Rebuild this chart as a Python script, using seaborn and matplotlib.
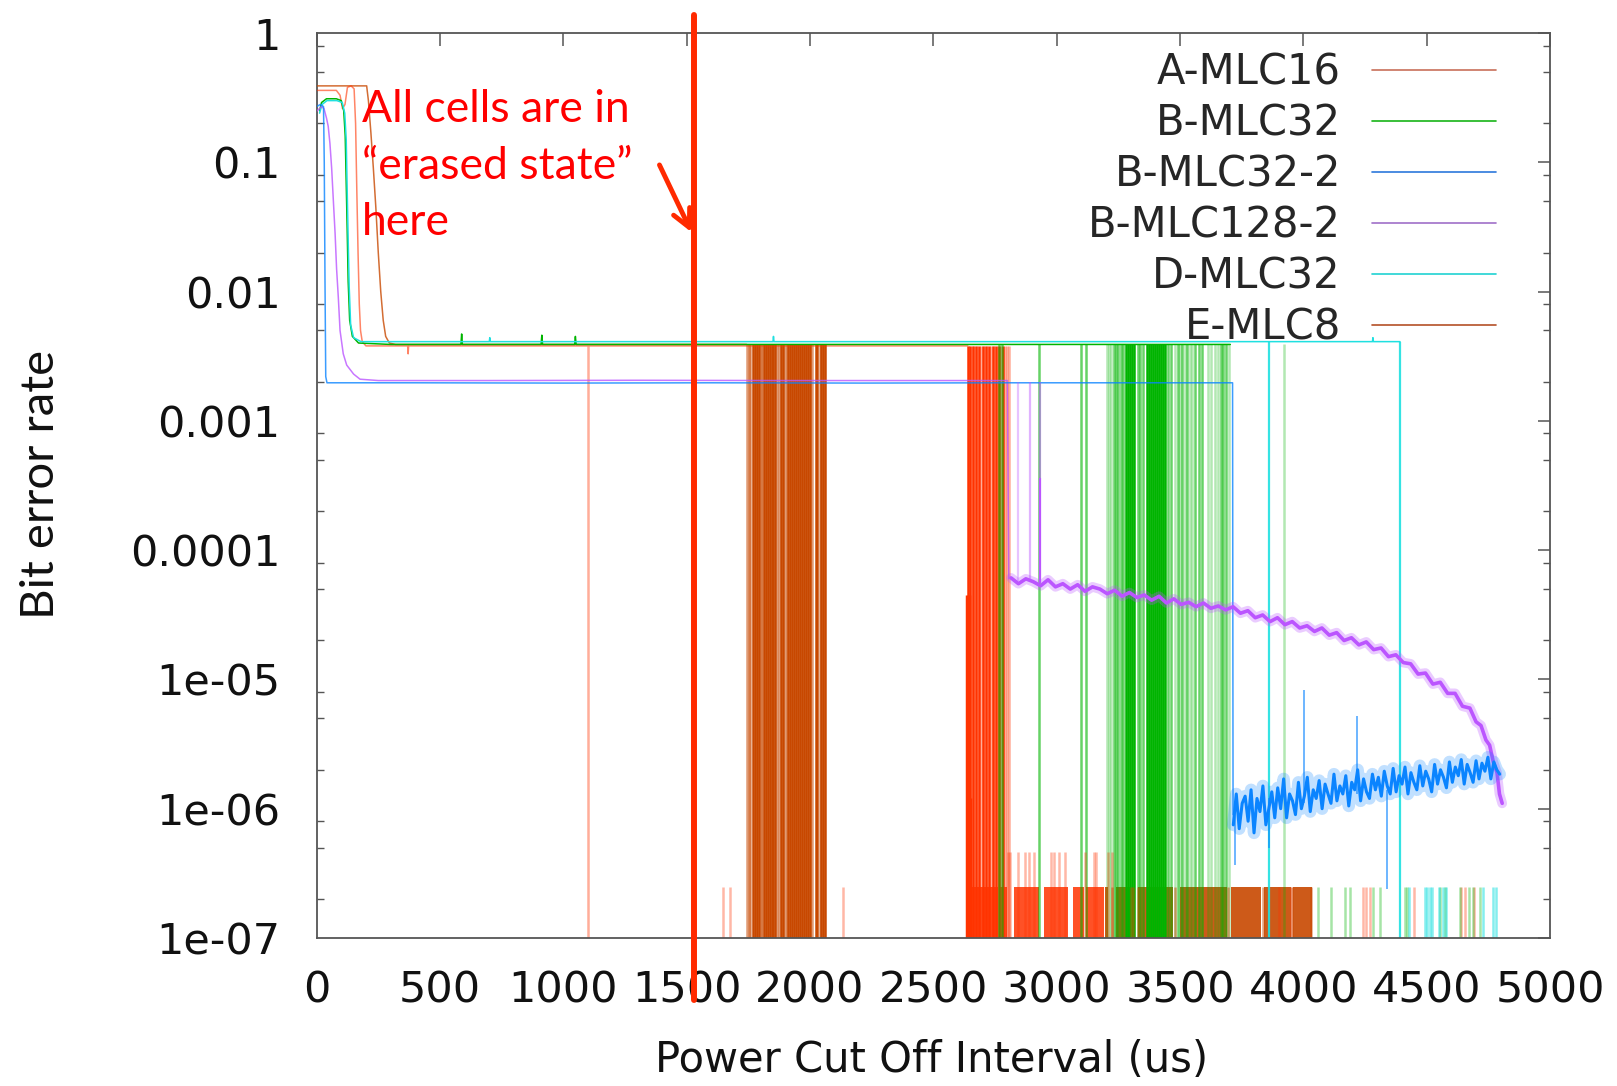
import numpy as np
import matplotlib
matplotlib.use("Agg")
import matplotlib.pyplot as plt
import seaborn as sns
from matplotlib.lines import Line2D
from matplotlib.ticker import FixedLocator, FixedFormatter, LogLocator, NullFormatter

sns.set_style("white")
plt.rcParams['font.family'] = ['DejaVu Sans']

# ------------------------------------------------------------------ data
series_names = ["A-MLC16", "B-MLC32", "B-MLC32-2", "B-MLC128-2", "D-MLC32", "E-MLC8"]
x_ticks = [0, 500, 1000, 1500, 2000, 2500, 3000, 3500, 4000, 4500, 5000]
x_tick_labels = ["0", "500", "1000", "1500", "2000", "2500", "3000", "3500", "4000", "4500", "5000"]
y_ticks = [1, 0.1, 0.01, 0.001, 0.0001, 1e-5, 1e-6, 1e-7]
y_tick_labels = ["1", "0.1", "0.01", "0.001", "0.0001", "1e-05", "1e-06", "1e-07"]

FLOOR = 1e-8          # zero BER (drawn below the axis)
STUB_LOW = 2.5e-7     # single-bit error level
STUB_HIGH = 4.6e-7

# A-MLC16
a16_x = [0, 80, 95, 105, 115, 125, 140, 152, 158, 163, 168, 173, 178, 185, 200, 369, 371, 373,
         700, 1095, 1500, 2000, 2400, 2640]
a16_y = [0.36, 0.36, 0.33, 0.26, 0.28, 0.38, 0.39, 0.37, 0.2, 0.06, 0.02, 0.008, 0.005, 0.0041, 0.0038,
         0.0038, 0.0033, 0.0038, 0.0038, 0.0038, 0.0038, 0.0038, 0.0038, 0.0038]
a16_drops = [2641, 2650, 2660, 2672, 2684, 2700, 2712, 2726, 2740, 2754, 2768, 2782]
a16_drops_light = [1101, 2645, 2656, 2666, 2678, 2692, 2706, 2719, 2733, 2747, 2761, 2775, 2790, 2800, 2808]
a16_low_x = [2637, 2643, 2648]
a16_low_top = [4.5e-5, 4.5e-5, 1.2e-6]
a16_stub_left = [2640, 2770, 2825, 2950, 3065, 3120]
a16_stub_right = [2762, 2797, 2930, 3045, 3110, 3190]
a16_stubs_tall = [2803, 2812, 2845, 2870, 2888, 2908, 2975, 2990, 3010, 3035, 3115, 3150, 3160, 3210, 3225]
a16_stubs_light = [1649, 1676, 2135, 3300, 3330, 3900, 3950, 4240, 4255, 4270, 4450, 4640, 4655, 4690]

# E-MLC8
e8_x = [0, 100, 203, 205, 210, 220, 230, 240, 250, 260, 270, 280, 295, 320, 800, 1200, 1743]
e8_y = [0.39, 0.39, 0.39, 0.36, 0.30, 0.17, 0.09, 0.045, 0.02, 0.01, 0.006, 0.0045, 0.0040, 0.0039,
        0.0039, 0.0039, 0.0039]
e8_drops = [1768, 1776, 1784, 1792, 1812, 1820, 1828, 1836, 1844, 1852, 1860, 1884, 1892, 1912, 1920,
            1928, 1936, 1944, 1952, 1960, 1968, 1976, 1984, 1992, 2000, 2024, 2030, 2046, 2054, 2060]
e8_drops_light = [1746, 1752, 1758, 1800, 1806, 1868, 1874, 1900, 1906, 2010, 2040]
e8_stub_left = [3195, 3240, 3330, 3500, 3705, 3840, 3960]
e8_stub_right = [3210, 3300, 3470, 3690, 3830, 3950, 4035]
e8_stubs_light = [3225, 3310, 3480, 3695, 3835, 3955, 4030]

# B-MLC32
b32_x = [12, 20, 40, 80, 100, 110, 116, 120, 124, 128, 134, 145, 170, 300, 585, 588, 591, 910, 913,
         916, 1046, 1049, 1052, 1600, 2200, 2770, 3000, 3400, 3704]
b32_y = [0.25, 0.29, 0.31, 0.31, 0.30, 0.25, 0.16, 0.07, 0.03, 0.012, 0.006, 0.0045, 0.0040, 0.0039,
         0.0039, 0.0047, 0.0039, 0.0039, 0.0046, 0.0039, 0.0039, 0.0045, 0.0039, 0.0039, 0.0039,
         0.0039, 0.0039, 0.0039, 0.0039]
b32_drops = [3282, 3290, 3298, 3306, 3314, 3368, 3376, 3384, 3392, 3400, 3408, 3416, 3424, 3432, 3440]
b32_drops_mid = [2766, 2778, 2928, 3100, 3120, 3232, 3240, 3250, 3260, 3270, 3328, 3338, 3350, 3452,
                 3462, 3490, 3510, 3530, 3560, 3575, 3590, 3665, 3675, 3685]
b32_drops_light = [3206, 3214, 3222, 3480, 3500, 3520, 3540, 3550, 3612, 3625, 3640, 3652, 3698, 3920]
b32_stubs_light = [4060, 4110, 4170, 4190, 4283, 4310, 4412, 4420, 4553, 4575, 4635, 4670, 4688, 4716]

# D-MLC32
d32_x = [12, 22, 42, 82, 104, 114, 120, 124, 128, 132, 138, 150, 180, 420, 700, 702, 704, 1300, 1850,
         1852, 1854, 2600, 3000, 3859, 4100, 4280, 4282, 4284, 4392]
d32_y = [0.24, 0.28, 0.30, 0.30, 0.29, 0.24, 0.15, 0.06, 0.025, 0.011, 0.0055, 0.0044, 0.0041, 0.0041,
         0.0041, 0.0044, 0.0041, 0.0041, 0.0041, 0.0045, 0.0041, 0.0041, 0.0041, 0.0041, 0.0041,
         0.0041, 0.0044, 0.0041, 0.0041]
d32_drops = [3859, 4392]
d32_stubs = [4430, 4493, 4503, 4513, 4523, 4550, 4565, 4580, 4730, 4770, 4780]

# B-MLC32-2
b322_x = [0, 15, 28, 31, 34, 37, 42, 400, 1000, 1600, 2200, 2800, 3200, 3713, 3715]
b322_y = [0.27, 0.28, 0.27, 0.1, 0.012, 0.0022, 0.00197, 0.00197, 0.00196, 0.00197, 0.00196,
          0.00197, 0.00197, 0.00197, 0.9e-6]
b322_tail_x = [3716, 3728, 3740, 3752, 3764, 3776, 3788, 3800, 3812, 3824, 3836, 3848, 3860, 3872,
               3884, 3896, 3908, 3920, 3932, 3944, 3956, 3968, 3980, 3992, 4004, 4016, 4028, 4040,
               4052, 4064, 4076, 4088, 4100, 4112, 4124, 4136, 4148, 4160, 4172, 4184, 4196, 4208,
               4220, 4232, 4244, 4256, 4268, 4280, 4292, 4304, 4316, 4328, 4340, 4352, 4364, 4376,
               4388, 4400, 4412, 4424, 4436, 4448, 4460, 4472, 4484, 4496, 4508, 4520, 4532, 4544,
               4556, 4568, 4580, 4592, 4604, 4616, 4628, 4640, 4652, 4664, 4676, 4688, 4700, 4712,
               4724, 4736, 4748, 4760, 4772, 4784, 4796]
b322_tail_ber_e6 = [0.75, 1.3, 0.7, 1.1, 1.25, 0.8, 1.4, 0.65, 1.2, 0.95,
                    1.5, 0.75, 1.0, 1.35, 0.85, 1.45, 1.0, 1.7, 0.85, 1.3,
                    1.15, 0.9, 1.6, 1.0, 1.25, 1.75, 0.95, 1.4, 1.2, 1.65,
                    1.0, 1.55, 1.3, 1.1, 1.85, 1.15, 1.5, 1.3, 1.8, 1.05,
                    1.6, 1.4, 2.0, 1.15, 1.7, 1.35, 1.2, 1.85, 1.4, 1.75,
                    1.25, 1.95, 1.5, 1.3, 2.05, 1.35, 1.8, 1.55, 2.1, 1.3,
                    1.9, 1.6, 1.4, 2.15, 1.5, 1.95, 1.7, 1.35, 2.2, 1.55,
                    2.0, 1.75, 1.45, 2.3, 1.6, 2.1, 1.8, 2.4, 1.55, 2.2,
                    1.9, 1.6, 2.35, 1.7, 2.25, 1.95, 2.5, 1.7, 2.3, 2.0,
                    1.85]
b322_spike_x = [3722, 3862, 4004, 4216, 4340]
b322_spike_lo = [0.37e-6, 0.5e-6, 1.1e-6, 1.3e-6, 0.24e-6]
b322_spike_hi = [1.0e-6, 1.2e-6, 8.3e-6, 5.2e-6, 1.4e-6]

# B-MLC128-2
p128_x = [2, 20, 30, 40, 47, 54, 61, 68, 75, 81, 88, 95, 108, 122, 150, 176, 250, 700, 1300, 1900,
          2400, 2800, 2806]
p128_y = [0.25, 0.27, 0.26, 0.22, 0.19, 0.14, 0.09, 0.05, 0.028, 0.015, 0.009, 0.005, 0.0033, 0.0027,
          0.0023, 0.0021, 0.00205, 0.00205, 0.00206, 0.00205, 0.00205, 0.00205, 6.0e-5]
p128_tail_x = [2815, 2845, 2875, 2905, 2935, 2965, 2995, 3025, 3055, 3085, 3115, 3145, 3175, 3205,
               3235, 3265, 3295, 3325, 3355, 3385, 3415, 3445, 3475, 3505, 3535, 3565, 3595, 3625,
               3655, 3685, 3715, 3745, 3775, 3805, 3835, 3865, 3895, 3925, 3955, 3985, 4015, 4045,
               4075, 4105, 4135, 4165, 4195, 4225, 4255, 4285, 4315, 4345, 4375, 4405, 4435, 4465,
               4495, 4525, 4555, 4585, 4615, 4645, 4675, 4700, 4720, 4740, 4755, 4770, 4785, 4795, 4806]
p128_tail_ber_e5 = [6.1, 5.5, 6.0, 5.7, 5.3, 5.9, 5.2, 5.5, 5.0, 5.4, 4.8, 5.2, 5.0, 4.6, 4.9, 4.4,
                    4.7, 4.3, 4.5, 4.1, 4.4, 3.9, 4.2, 3.8, 3.95, 3.65, 3.9, 3.55, 3.7, 3.45, 3.65, 3.25,
                    3.4, 3.0, 3.15, 2.8, 3.0, 2.65, 2.8, 2.5, 2.6, 2.35, 2.5, 2.2, 2.3, 2.0,
                    2.1, 1.85, 1.95, 1.7, 1.75, 1.5, 1.55, 1.35, 1.32, 1.1, 1.12, 0.92, 0.95, 0.78,
                    0.78, 0.62, 0.6, 0.47, 0.44, 0.34, 0.31, 0.23, 0.19, 0.13, 0.11]
p128_spike_x = [2845, 2892, 2933, 2933]
p128_spike_lo = [5.8e-5, 5.7e-5, 5.6e-5, 3.6e-4]
p128_spike_hi = [2.0e-3, 2.0e-3, 3.6e-4, 2.0e-3]
p128_spike_alpha = [0.35, 0.45, 1.0, 0.5]

# colours
c_a16, c_b32, c_b322, c_p128, c_d32, c_e8 = "#ff3300", "#00b400", "#0a84ff", "#bb55ff", "#1fe0e0", "#c84800"
legend_colors = ["#c8705a", "#18b418", "#2c78dc", "#a070c8", "#20d2d2", "#b45028"]

# ------------------------------------------------------------------ figure
fig = plt.figure(figsize=(16.17, 10.86), dpi=100)
ax = fig.add_axes([0.1958, 0.1363, 0.7628, 0.8333])
ax.set_yscale("log")

LW = 1.1
DLW = 1.8

def vl(x, lo, hi, color, alpha, lw=DLW, z=2):
    ax.vlines(x, lo, hi, colors=color, alpha=alpha, linewidth=lw, zorder=z)

# bands / drops
vl(e8_drops, FLOOR, 0.0039, c_e8, 1.0)
vl(e8_drops_light, FLOOR, 0.0039, c_e8, 0.55)
vl(a16_drops, FLOOR, 0.0038, c_a16, 1.0)
vl(a16_drops_light, FLOOR, 0.0038, c_a16, 0.4)
vl(a16_low_x, FLOOR, a16_low_top, c_a16, 1.0, lw=2.5)
vl(b32_drops, FLOOR, 0.0039, c_b32, 1.0)
vl(b32_drops_mid, FLOOR, 0.0039, c_b32, 0.6)
vl(b32_drops_light, FLOOR, 0.0039, c_b32, 0.3)
vl(d32_drops, FLOOR, 0.0041, c_d32, 0.9, lw=1.6)

# bottom single-error stubs
ax.bar(a16_stub_left, STUB_LOW - FLOOR, width=np.subtract(a16_stub_right, a16_stub_left), bottom=FLOOR,
       align="edge", color=c_a16, alpha=0.85, linewidth=0, zorder=1)
ax.bar(e8_stub_left, STUB_LOW - FLOOR, width=np.subtract(e8_stub_right, e8_stub_left), bottom=FLOOR,
       align="edge", color=c_e8, alpha=0.9, linewidth=0, zorder=1.5)
vl(a16_stubs_tall, FLOOR, STUB_HIGH, c_a16, 0.35)
vl(a16_stubs_light, FLOOR, STUB_LOW, c_a16, 0.35)
vl(e8_stubs_light, FLOOR, STUB_LOW, c_e8, 0.5)
vl(b32_stubs_light, FLOOR, STUB_LOW, c_b32, 0.35)
vl(d32_stubs, FLOOR, STUB_LOW, c_d32, 0.55)

# main curves
sns.lineplot(x=e8_x, y=e8_y, ax=ax, color=c_e8, lw=LW, alpha=0.8, estimator=None, sort=False, zorder=3)
sns.lineplot(x=a16_x, y=a16_y, ax=ax, color=c_a16, lw=LW, alpha=0.6, estimator=None, sort=False, zorder=3)
sns.lineplot(x=b32_x, y=b32_y, ax=ax, color=c_b32, lw=LW, estimator=None, sort=False, zorder=3)
sns.lineplot(x=d32_x, y=d32_y, ax=ax, color=c_d32, lw=LW, estimator=None, sort=False, zorder=3.2)
sns.lineplot(x=p128_x, y=p128_y, ax=ax, color=c_p128, lw=LW, alpha=0.8, estimator=None, sort=False, zorder=3.4)
sns.lineplot(x=b322_x, y=b322_y, ax=ax, color=c_b322, lw=LW, alpha=0.8, estimator=None, sort=False, zorder=3.5)

p_tail = np.array(p128_tail_ber_e5) * 1e-5
sns.lineplot(x=p128_tail_x, y=p_tail, ax=ax, color=c_p128, lw=7.0, alpha=0.3, estimator=None, sort=False, zorder=4)
sns.lineplot(x=p128_tail_x, y=p_tail, ax=ax, color=c_p128, lw=2.6, estimator=None, sort=False, zorder=4.1)
for xs, lo, hi, a in zip(p128_spike_x, p128_spike_lo, p128_spike_hi, p128_spike_alpha):
    vl([xs], lo, hi, c_p128, a, lw=1.6, z=4)

b_tail = np.array(b322_tail_ber_e6) * 1e-6
sns.lineplot(x=b322_tail_x, y=b_tail, ax=ax, color=c_b322, lw=9.0, alpha=0.25, estimator=None, sort=False, zorder=4.5)
sns.lineplot(x=b322_tail_x, y=b_tail, ax=ax, color=c_b322, lw=2.2, estimator=None, sort=False, zorder=4.6)
vl(b322_spike_x, b322_spike_lo, b322_spike_hi, c_b322, 0.6, lw=1.4, z=4.5)

# ------------------------------------------------------------------ axes styling
ax.set_xlim(0, 5000)
ax.set_ylim(1e-7, 1)
ax.xaxis.set_major_locator(FixedLocator(x_ticks))
ax.xaxis.set_major_formatter(FixedFormatter(x_tick_labels))
ax.yaxis.set_major_locator(FixedLocator(y_ticks))
ax.yaxis.set_major_formatter(FixedFormatter(y_tick_labels))
ax.yaxis.set_minor_locator(LogLocator(base=10, subs=(2.0, 5.0, 8.0)))
ax.yaxis.set_minor_formatter(NullFormatter())
ax.tick_params(axis="both", which="major", direction="in", length=9, width=1.1, color="#555555",
               top=True, right=True)
ax.tick_params(axis="y", which="minor", direction="in", length=5, width=1.0, color="#555555",
               left=True, right=True)
ax.tick_params(axis="x", which="major", labelsize=31, pad=23, labelcolor="#111111")
ax.tick_params(axis="y", which="major", labelsize=31, pad=26, labelcolor="#111111")
for s in ax.spines.values():
    s.set_color("#555555")
    s.set_linewidth(1.3)
ax.set_xlabel("")
ax.set_ylabel("")

fig.text(41 / 1617, 1 - 484 / 1086, "Bit error rate", rotation=90, ha="center", va="center",
         fontsize=34, family=["Lato", "DejaVu Sans"], color="#111111")
fig.text(932 / 1617, 1 - 1060 / 1086, "Power Cut Off Interval (us)", ha="center", va="center",
         fontsize=30, color="#111111")

# legend (gnuplot style: label right-aligned, sample on the right)
handles = [Line2D([], [], color=c, lw=1.2) for c in legend_colors]
ax.legend(handles, series_names, loc="upper right", bbox_to_anchor=(0.956, 0.98), frameon=False,
          markerfirst=False, fontsize=30, handlelength=2.97, handletextpad=0.75, labelspacing=0.22,
          borderpad=0, borderaxespad=0)

# annotation
ax.axvline(1530, ymin=-0.069, ymax=1.02, clip_on=False, color="#ff2a00", lw=4.3, zorder=20)
ax.annotate("", xy=(0.305, 0.777), xytext=(0.277, 0.857), xycoords="axes fraction",
            arrowprops=dict(arrowstyle="->", color="#ff2a00", lw=3.5, mutation_scale=32), zorder=20)
ax.text(0.0368, 0.938, "All cells are in\n\u201cerased state\u201d\nhere", transform=ax.transAxes,
        ha="left", va="top", fontsize=32, color="#ff0000", family=["Lato", "DejaVu Sans"],
        linespacing=1.47, zorder=21)

fig.savefig("out.png", dpi=100)
